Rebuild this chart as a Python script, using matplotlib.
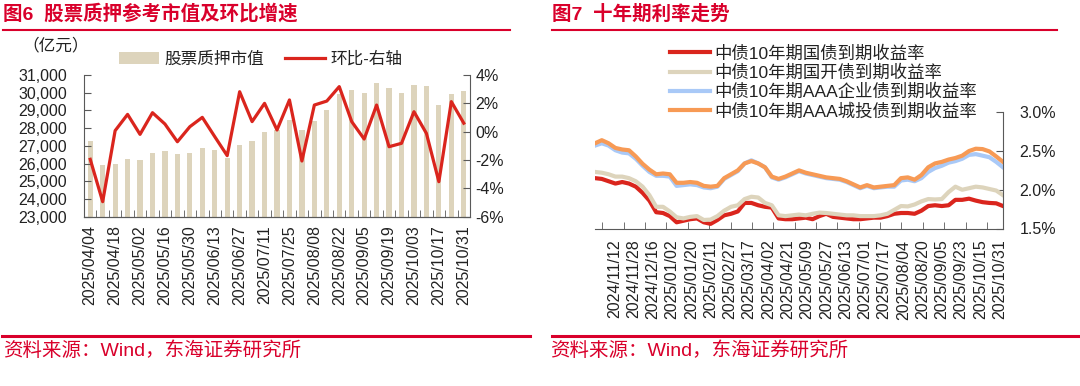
import numpy as np
import matplotlib
matplotlib.use('Agg')
import matplotlib.pyplot as plt
from matplotlib.lines import Line2D
from matplotlib.patches import Patch
from matplotlib.ticker import FuncFormatter

plt.rcParams['font.family'] = ['Liberation Sans', 'Noto Sans CJK SC', 'DejaVu Sans']

# ---- left chart data (weekly) ----
left_labels = ['2025/04/04', '2025/04/18', '2025/05/02', '2025/05/16', '2025/05/30',
               '2025/06/13', '2025/06/27', '2025/07/11', '2025/07/25', '2025/08/08',
               '2025/08/22', '2025/09/05', '2025/09/19', '2025/10/03', '2025/10/17',
               '2025/10/31']
pledge_value = [27300, 25900, 25960, 26250, 26190, 26600, 26720, 26550, 26600, 26890,
                26770, 26320, 27040, 27260, 27810, 27870, 28470, 27900, 28410, 29020,
                29940, 30170, 29990, 30550, 30260, 29990, 30450, 30380, 29320, 29940,
                30110]
mom_pct = [-1.95, -4.94, 0.07, 1.22, -0.19, 1.34, 0.54, -0.71, 0.35, 1.01,
           -0.35, -1.69, 2.82, 0.71, 2.00, 0.12, 2.24, -2.07, 1.88, 2.16,
           3.18, 0.71, -0.52, 1.88, -1.06, -0.82, 1.41, -0.12, -3.53, 2.12,
           0.60]

# ---- right chart data (sampled every ~4 trading days) ----
right_labels = ['2024/11/12', '2024/11/28', '2024/12/16', '2025/01/02', '2025/01/20',
                '2025/02/11', '2025/02/27', '2025/03/17', '2025/04/02', '2025/04/21',
                '2025/05/09', '2025/05/27', '2025/06/13', '2025/07/01', '2025/07/17',
                '2025/08/04', '2025/08/20', '2025/09/05', '2025/09/23', '2025/10/15',
                '2025/10/31']
gov_10y = [2.15, 2.14, 2.11, 2.08, 2.10, 2.08, 2.04, 1.96, 1.86, 1.71,
           1.70, 1.66, 1.58, 1.60, 1.62, 1.63, 1.58, 1.56, 1.61, 1.67,
           1.69, 1.72, 1.83, 1.83, 1.80, 1.78, 1.77, 1.63, 1.62, 1.62,
           1.63, 1.64, 1.62, 1.66, 1.69, 1.65, 1.64, 1.63, 1.62, 1.62,
           1.63, 1.64, 1.64, 1.66, 1.69, 1.70, 1.70, 1.69, 1.73, 1.79,
           1.80, 1.79, 1.80, 1.87, 1.87, 1.885, 1.86, 1.84, 1.83, 1.825,
           1.79]
cdb_10y = [2.23, 2.22, 2.20, 2.17, 2.17, 2.15, 2.11, 2.04, 1.93, 1.78,
           1.78, 1.72, 1.645, 1.63, 1.65, 1.66, 1.61, 1.615, 1.66, 1.73,
           1.78, 1.80, 1.88, 1.91, 1.90, 1.83, 1.80, 1.67, 1.66, 1.67,
           1.68, 1.67, 1.69, 1.705, 1.70, 1.69, 1.68, 1.67, 1.67, 1.66,
           1.66, 1.66, 1.67, 1.69, 1.74, 1.79, 1.785, 1.81, 1.85, 1.88,
           1.875, 1.88, 1.97, 2.04, 2.00, 2.02, 2.04, 2.03, 2.01, 1.99,
           1.93]
corp_aaa_10y = [2.57, 2.60, 2.57, 2.51, 2.48, 2.47, 2.40, 2.31, 2.23, 2.18,
                2.18, 2.17, 2.05, 2.06, 2.07, 2.06, 2.03, 2.02, 2.04, 2.14,
                2.19, 2.24, 2.34, 2.38, 2.34, 2.29, 2.16, 2.13, 2.16, 2.20,
                2.24, 2.21, 2.19, 2.17, 2.15, 2.14, 2.13, 2.10, 2.06, 2.02,
                2.05, 2.02, 2.03, 2.04, 2.04, 2.12, 2.13, 2.11, 2.15, 2.23,
                2.28, 2.31, 2.35, 2.37, 2.40, 2.45, 2.46, 2.44, 2.42, 2.36,
                2.29]
lgfv_aaa_10y = [2.60, 2.64, 2.60, 2.54, 2.52, 2.51, 2.43, 2.335, 2.26, 2.20,
                2.21, 2.20, 2.09, 2.09, 2.10, 2.09, 2.05, 2.04, 2.05, 2.15,
                2.20, 2.25, 2.34, 2.37, 2.34, 2.29, 2.17, 2.14, 2.17, 2.21,
                2.25, 2.22, 2.20, 2.18, 2.16, 2.15, 2.14, 2.11, 2.07, 2.03,
                2.06, 2.03, 2.04, 2.05, 2.06, 2.15, 2.16, 2.13, 2.19, 2.29,
                2.34, 2.36, 2.39, 2.41, 2.44, 2.50, 2.53, 2.525, 2.495, 2.43,
                2.36]
right_names = ['中债10年期国债到期收益率', '中债10年期国开债到期收益率',
               '中债10年期AAA企业债到期收益率', '中债10年期AAA城投债到期收益率']

TITLE_RED = '#D9002B'
RED = '#DA251D'
BEIGE = '#DDD4BC'
BLUE = '#A9C9F7'
ORANGE = '#F79A55'
AXIS = '#595959'
TEXT = '#222222'
FS = 11.5

W, H = 1080, 386
fig = plt.figure(figsize=(10.8, 3.86), dpi=100)


def fx(px):
    return px / W


def fy(py):
    return 1 - py / H


# ---------------- left chart ----------------
ax1 = fig.add_axes([fx(84), fy(216.7), fx(470 - 84), (216.7 - 75) / H])
x = np.arange(len(pledge_value))
ax1.bar(x, pledge_value, width=0.42, color=BEIGE, zorder=1)
ax1.set_xlim(-0.5, len(x) - 0.5)
ax1.set_ylim(23000, 31000)
ax1.set_yticks(range(23000, 31001, 1000))
ax1.yaxis.set_major_formatter(FuncFormatter(lambda v, p: f'{v:,.0f}'))
ax1.set_xticks(x[::2])
ax1.set_xticklabels(left_labels, rotation=90)
ax1.set_xticks(np.arange(-0.5, len(x), 1), minor=True)
ax1.tick_params(axis='x', which='major', length=0, pad=6, labelsize=FS, colors=TEXT)
ax1.tick_params(axis='x', which='minor', direction='in', length=5, color=AXIS)
ax1.tick_params(axis='y', direction='in', length=5, pad=12, labelsize=FS,
                colors=TEXT, color=AXIS)

ax1b = ax1.twinx()
ax1b.plot(x, mom_pct, color=RED, lw=2.3, zorder=3)
ax1b.set_ylim(-6, 4)
ax1b.set_yticks(range(-6, 5, 2))
ax1b.yaxis.set_major_formatter(FuncFormatter(lambda v, p: f'{v:.0f}%'))
ax1b.tick_params(axis='y', direction='in', length=5, pad=4, labelsize=FS,
                 colors=TEXT, color=AXIS)

for a in (ax1, ax1b):
    a.spines['top'].set_visible(False)
    for s in ('left', 'right', 'bottom'):
        a.spines[s].set_color(AXIS)
ax1.spines['right'].set_visible(False)
ax1b.spines['left'].set_visible(False)

fig.text(fx(22), fy(45), '（亿元）', fontsize=12, color=TEXT, va='center')
left_handles = [Patch(facecolor=BEIGE, edgecolor='none'), Line2D([], [], color=RED, lw=2.3)]
fig.legend(left_handles, ['股票质押市值', '环比-右轴'], loc='center left',
           bbox_to_anchor=(fx(119), fy(59)), ncol=2, frameon=False, fontsize=12,
           handlelength=2.4, handletextpad=0.3, columnspacing=1.3, borderpad=0,
           borderaxespad=0, labelcolor=TEXT)

# ---------------- right chart ----------------
ax2 = fig.add_axes([fx(595), fy(228.5), fx(1003 - 595), (228.5 - 112.3) / H])
n_days = 254
days = np.linspace(0, n_days, len(gov_10y))
series = [gov_10y, cdb_10y, corp_aaa_10y, lgfv_aaa_10y]
colors = [RED, BEIGE, BLUE, ORANGE]
for vals, c, name in zip(series, colors, right_names):
    ax2.plot(days, vals, color=c, lw=3.0, label=name, solid_joinstyle='round')
ax2.set_xlim(0, n_days)
ax2.set_ylim(1.5, 3.0)
ax2.set_yticks([1.5, 2.0, 2.5, 3.0])
ax2.yaxis.set_major_formatter(FuncFormatter(lambda v, p: f'{v:.1f}%'))
ax2.yaxis.tick_right()
label_pos = 12 + 12 * np.arange(len(right_labels))
ax2.set_xticks(label_pos)
ax2.set_xticklabels(right_labels, rotation=90)
ax2.set_xticks(np.arange(4.6, n_days - 5, 13.3), minor=True)
ax2.tick_params(axis='x', which='major', length=0, pad=8, labelsize=FS, colors=TEXT)
ax2.tick_params(axis='x', which='minor', direction='in', length=5, color=AXIS)
ax2.tick_params(axis='y', direction='in', length=5, pad=12, labelsize=FS,
                colors=TEXT, color=AXIS)
ax2.spines['top'].set_visible(False)
ax2.spines['left'].set_visible(False)
ax2.spines['right'].set_color(AXIS)
ax2.spines['bottom'].set_color(AXIS)

fig.legend(*ax2.get_legend_handles_labels(), loc='upper left',
           bbox_to_anchor=(fx(670), fy(45)), frameon=False, fontsize=12.5,
           handlelength=2.3, handletextpad=0.25, labelspacing=0.17, borderpad=0,
           borderaxespad=0, labelcolor=TEXT)

# ---------------- titles, rules and sources ----------------
fig.text(fx(3), fy(14), '图6  股票质押参考市值及环比增速', fontsize=14, fontweight='bold',
         color=TITLE_RED, va='center')
fig.text(fx(552), fy(14), '图7  十年期利率走势', fontsize=14, fontweight='bold',
         color=TITLE_RED, va='center')
for x0, x1 in ((3, 510), (552, 1057)):
    fig.add_artist(Line2D([fx(x0), fx(x1)], [fy(30), fy(30)], color=TITLE_RED, lw=1.5,
                          transform=fig.transFigure))
for x0, x1 in ((2, 530), (552, 1080)):
    fig.add_artist(Line2D([fx(x0), fx(x1)], [fy(336), fy(336)], color=TITLE_RED, lw=2.2,
                          transform=fig.transFigure))
for x0 in (3, 550):
    fig.text(fx(x0), fy(351), '资料来源：Wind，东海证券研究所', fontsize=14,
             color=TITLE_RED, va='center')

fig.savefig('out.png', dpi=100)
